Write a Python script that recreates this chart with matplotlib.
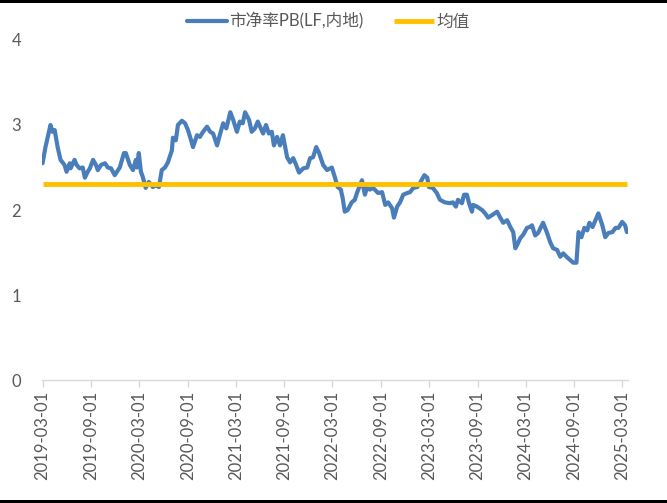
import numpy as np
import pandas as pd
import matplotlib
matplotlib.use('Agg')
import matplotlib.pyplot as plt
import matplotlib.dates as mdates
from matplotlib.patches import Rectangle

plt.rcParams['font.family'] = ['Lato', 'Noto Sans CJK SC', 'DejaVu Sans']

# 市净率PB(LF,内地)
dates = [
    '2019-03-01', '2019-03-12', '2019-03-31', '2019-04-08', '2019-04-16', '2019-04-27',
    '2019-05-08', '2019-05-23', '2019-05-31', '2019-06-12', '2019-06-15', '2019-06-30',
    '2019-07-08', '2019-07-19', '2019-07-31', '2019-08-08', '2019-08-19', '2019-08-27',
    '2019-09-08', '2019-09-19', '2019-09-26', '2019-10-08', '2019-10-23', '2019-11-03',
    '2019-11-15', '2019-11-29', '2019-12-18', '2020-01-03', '2020-01-10', '2020-01-25',
    '2020-02-06', '2020-02-17', '2020-02-21', '2020-02-28', '2020-03-07', '2020-03-14',
    '2020-03-25', '2020-04-06', '2020-04-21', '2020-05-02', '2020-05-14', '2020-05-25',
    '2020-06-06', '2020-06-17', '2020-07-02', '2020-07-06', '2020-07-17', '2020-07-25',
    '2020-08-09', '2020-08-21', '2020-09-01', '2020-09-09', '2020-09-20', '2020-10-05',
    '2020-10-16', '2020-10-28', '2020-11-12', '2020-11-24', '2020-12-05', '2020-12-20',
    '2021-01-01', '2021-01-12', '2021-01-24', '2021-02-08', '2021-02-19', '2021-03-05',
    '2021-03-16', '2021-03-27', '2021-04-05', '2021-04-20', '2021-04-30', '2021-05-12',
    '2021-05-23', '2021-06-12', '2021-06-23', '2021-07-04', '2021-07-15', '2021-07-23',
    '2021-08-04', '2021-08-15', '2021-08-26', '2021-09-11', '2021-09-22', '2021-10-04',
    '2021-10-15', '2021-10-26', '2021-11-11', '2021-11-26', '2021-12-07', '2021-12-18',
    '2021-12-30', '2022-01-10', '2022-01-25', '2022-02-09', '2022-02-27', '2022-03-10',
    '2022-03-21', '2022-04-02', '2022-04-09', '2022-04-17', '2022-04-28', '2022-05-13',
    '2022-05-25', '2022-06-02', '2022-06-13', '2022-06-21', '2022-07-02', '2022-07-10',
    '2022-07-21', '2022-08-02', '2022-08-21', '2022-09-05', '2022-09-17', '2022-09-28',
    '2022-10-13', '2022-10-20', '2022-11-01', '2022-11-12', '2022-11-24', '2022-12-09',
    '2022-12-20', '2023-01-01', '2023-01-16', '2023-01-27', '2023-02-12', '2023-02-23',
    '2023-03-01', '2023-03-16', '2023-03-31', '2023-04-12', '2023-04-30', '2023-05-19',
    '2023-05-31', '2023-06-11', '2023-06-19', '2023-07-04', '2023-07-12', '2023-07-23',
    '2023-07-31', '2023-08-11', '2023-08-15', '2023-08-30', '2023-09-18', '2023-09-30',
    '2023-10-11', '2023-10-26', '2023-11-14', '2023-11-26', '2023-12-07', '2023-12-22',
    '2024-01-03', '2024-01-14', '2024-01-22', '2024-01-29', '2024-02-10', '2024-02-21',
    '2024-03-06', '2024-03-17', '2024-03-25', '2024-04-06', '2024-04-17', '2024-05-06',
    '2024-05-21', '2024-06-02', '2024-06-13', '2024-06-28', '2024-07-10', '2024-07-21',
    '2024-08-06', '2024-08-17', '2024-08-28', '2024-09-09', '2024-09-17', '2024-09-28',
    '2024-10-09', '2024-10-20', '2024-10-28', '2024-11-09', '2024-11-20', '2024-12-01',
    '2024-12-16', '2024-12-27', '2025-01-08', '2025-01-23', '2025-02-04', '2025-02-15',
    '2025-03-01', '2025-03-12', '2025-03-19',
]
pb = [
    2.55, 2.74, 3.00, 2.92, 2.94, 2.74,
    2.59, 2.53, 2.45, 2.55, 2.49, 2.59,
    2.53, 2.49, 2.50, 2.38, 2.45, 2.49,
    2.59, 2.53, 2.47, 2.53, 2.55, 2.50,
    2.49, 2.41, 2.50, 2.67, 2.67, 2.53,
    2.47, 2.59, 2.50, 2.67, 2.45, 2.39,
    2.26, 2.33, 2.27, 2.29, 2.27, 2.47,
    2.50, 2.56, 2.70, 2.85, 2.82, 3.00,
    3.05, 3.02, 2.94, 2.86, 2.74, 2.88,
    2.86, 2.92, 2.98, 2.92, 2.90, 2.76,
    2.90, 3.02, 2.96, 3.15, 3.06, 2.92,
    3.04, 3.02, 3.15, 3.06, 2.92, 2.96,
    3.04, 2.90, 3.00, 2.90, 2.92, 2.76,
    2.86, 2.76, 2.88, 2.62, 2.56, 2.61,
    2.53, 2.44, 2.49, 2.50, 2.61, 2.62,
    2.74, 2.67, 2.53, 2.47, 2.50, 2.39,
    2.27, 2.24, 2.14, 1.98, 2.00, 2.09,
    2.12, 2.20, 2.29, 2.35, 2.18, 2.26,
    2.24, 2.26, 2.20, 2.21, 2.06, 2.09,
    2.02, 1.91, 2.04, 2.09, 2.18, 2.20,
    2.21, 2.26, 2.27, 2.32, 2.41, 2.38,
    2.27, 2.26, 2.20, 2.12, 2.09, 2.08,
    2.09, 2.04, 2.12, 2.08, 2.18, 2.18,
    2.08, 1.98, 2.06, 2.04, 2.00, 1.96,
    1.91, 1.94, 1.98, 1.91, 1.85, 1.88,
    1.80, 1.74, 1.55, 1.59, 1.67, 1.71,
    1.79, 1.80, 1.82, 1.70, 1.73, 1.85,
    1.73, 1.62, 1.55, 1.53, 1.45, 1.49,
    1.44, 1.41, 1.38, 1.38, 1.74, 1.68,
    1.79, 1.76, 1.85, 1.80, 1.88, 1.96,
    1.82, 1.68, 1.73, 1.74, 1.79, 1.79,
    1.86, 1.82, 1.74,
]
mean_pb = 2.31

tick_dates = ['2019-03-01', '2019-09-01', '2020-03-01', '2020-09-01', '2021-03-01',
              '2021-09-01', '2022-03-01', '2022-09-01', '2023-03-01', '2023-09-01',
              '2024-03-01', '2024-09-01', '2025-03-01']

x = pd.to_datetime(dates)
xt = pd.to_datetime(tick_dates)

BLUE = '#4A7EBB'
GOLD = '#FFC000'
GREY = '#595959'

fig = plt.figure(figsize=(6.67, 5.03), dpi=100)
ax = fig.add_axes([0.063, 0.2445, 0.8785, 0.676])

ax.plot(x, pb, color=BLUE, lw=3, solid_capstyle='round', solid_joinstyle='round',
        label='市净率PB(LF,内地)')
ax.plot([x[0], x[-1]], [mean_pb, mean_pb], color=GOLD, lw=3.5, solid_capstyle='butt',
        label='均值')

ax.set_ylim(0, 4)
ax.set_yticks([0, 1, 2, 3, 4])
ax.set_xlim(x[0] - pd.Timedelta(days=2), x[-1] + pd.Timedelta(days=4))
ax.set_xticks(xt)
ax.xaxis.set_major_formatter(mdates.DateFormatter('%Y-%m-%d'))

for s in ['top', 'right', 'left']:
    ax.spines[s].set_visible(False)
ax.spines['bottom'].set_color('#D9D9D9')
ax.spines['bottom'].set_linewidth(1)

ax.tick_params(axis='y', length=0, pad=15, labelsize=12, labelcolor=GREY)
ax.tick_params(axis='x', length=5, width=1, color='#D9D9D9', pad=3,
               labelsize=12, labelcolor=GREY, labelrotation=90)

fig.legend(loc='center', bbox_to_anchor=(0.492, 0.958), ncol=2, frameon=False,
           fontsize=12, handlelength=2.4, handletextpad=0.15, columnspacing=1.8,
           labelcolor=GREY)

# thin black frame lines at top and bottom of the image
fig.add_artist(Rectangle((0, 0.995), 1, 0.005, transform=fig.transFigure,
                         color='black', lw=0))
fig.add_artist(Rectangle((0, 0), 1, 0.005, transform=fig.transFigure,
                         color='black', lw=0))

fig.savefig('out.png', dpi=100)
